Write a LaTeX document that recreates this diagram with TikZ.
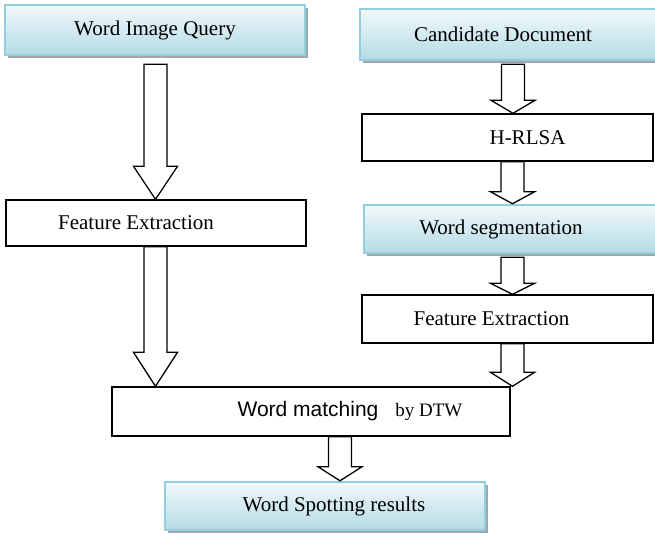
\documentclass[tikz,border=0pt]{standalone}
\usepackage{fontspec}
\setmainfont{Liberation Serif}
\setsansfont{Liberation Sans}
\usepackage{xcolor}
\usepackage{tikz}
\usetikzlibrary{positioning,calc,shadows}
\definecolor{boxedge}{RGB}{146,206,222}
\definecolor{boxtop}{RGB}{242,249,251}
\definecolor{boxbottom}{RGB}{180,219,229}
\definecolor{boxshadow}{RGB}{160,167,170}

\tikzset{
  plainbox/.style={draw, line width=1.4pt, fill=white, inner sep=0pt},
  shadedbox/.style={draw=boxedge, line width=2.5pt, top color=boxtop, bottom color=boxbottom, inner sep=0pt,
    drop shadow={shadow xshift=3pt, shadow yshift=-3pt, fill=boxshadow, opacity=1}},
  blockarrow/.style={draw, line width=1.3pt, fill=white, line join=miter},
}
% block arrow: from, to, x, gap, head length
\newcommand{\blockarrow}[5]{%
  \coordinate (ftop) at (#3,0 |- #1.south);
  \coordinate (fbot) at (#3,0 |- #2.north);
  \draw[blockarrow] ($(ftop)+(-11.5,#4)$) -- ($(fbot)+(-11.5,-#5)$) -- ($(fbot)+(-22,-#5)$) -- (fbot)
    -- ($(fbot)+(22,-#5)$) -- ($(fbot)+(11.5,-#5)$) -- ($(ftop)+(11.5,#4)$) -- cycle;
}

\begin{document}
\begin{tikzpicture}[x=1pt, y=-1pt, font=\fontsize{21}{25}\selectfont]
\useasboundingbox (0,0) rectangle (655,539);

% left column
\node[shadedbox, minimum width=300pt, minimum height=50pt] (query) at (155,30) {Word Image Query};
\node[plainbox, minimum width=300pt, minimum height=46pt,
  label={[xshift=-20pt]center:Feature Extraction}] (fe1) at (156,223) {};

% right column
\node[shadedbox, minimum width=300pt, minimum height=51pt,
  label={[xshift=-7pt]center:Candidate Document}] (cand) at (510,34.5) {};
\node[plainbox, minimum width=291pt, minimum height=47pt,
  label={[xshift=20pt]center:H-RLSA}] (hrlsa) at (507.5,137.5) {};
\node[shadedbox, minimum width=298pt, minimum height=48pt,
  label={[xshift=-12pt]center:Word segmentation}] (seg) at (513,229) {};
\node[plainbox, minimum width=291pt, minimum height=48pt,
  label={[xshift=-16pt]center:Feature Extraction}] (fe2) at (507.5,319) {};

% matching and result
\node[plainbox, minimum width=398pt, minimum height=49pt,
  label={[xshift=39pt]center:{\sffamily Word matching}\hspace{17pt}{\fontsize{19}{23}\selectfont by DTW}}] (match) at (311,411.5) {};
\node[shadedbox, minimum width=320pt, minimum height=48pt,
  label={[xshift=9pt]center:Word Spotting results}] (result) at (325,506) {};

\blockarrow{query}{fe1}{155.5}{8}{33}
\blockarrow{fe1}{match}{155.5}{0}{34}
\blockarrow{cand}{hrlsa}{513}{3}{13}
\blockarrow{hrlsa}{seg}{512.5}{0}{12}
\blockarrow{seg}{fe2}{512.5}{3}{11}
\blockarrow{fe2}{match}{512.5}{0}{14}
\blockarrow{match}{result}{340}{0}{14}
\end{tikzpicture}
\end{document}
